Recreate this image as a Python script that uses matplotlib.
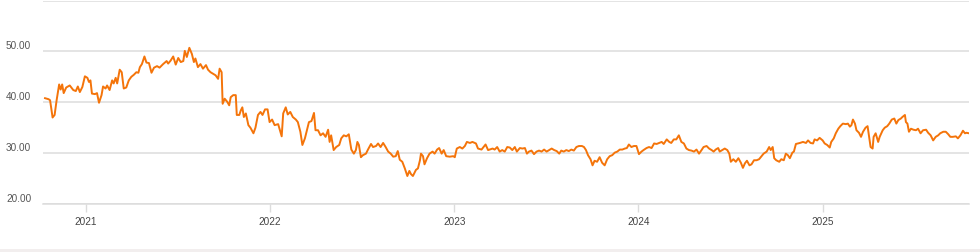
import numpy as np
import pandas as pd
import matplotlib
matplotlib.use("Agg")
import matplotlib.pyplot as plt
import matplotlib.dates as mdates
import matplotlib.transforms as mtransforms
from matplotlib.patches import Rectangle


# closing prices, split by year
dates_2020 = ["2020-10-12", "2020-10-19", "2020-10-22", "2020-10-27", "2020-10-31",
              "2020-11-04", "2020-11-09", "2020-11-12", "2020-11-15", "2020-11-18",
              "2020-11-23", "2020-11-30", "2020-12-07", "2020-12-12", "2020-12-16",
              "2020-12-20", "2020-12-25", "2020-12-30"]
close_2020 = [40.8, 40.6, 40.4, 37.0, 37.5, 40.4, 43.5, 42.5, 43.5, 41.8,
              42.9, 43.3, 42.4, 42.2, 43.1, 42.0, 43.0, 45.1]

dates_2021 = ["2021-01-04", "2021-01-07", "2021-01-10", "2021-01-13", "2021-01-19",
              "2021-01-23", "2021-01-27", "2021-02-01", "2021-02-04", "2021-02-09",
              "2021-02-12", "2021-02-17", "2021-02-22", "2021-02-25", "2021-03-01",
              "2021-03-04", "2021-03-09", "2021-03-13", "2021-03-17", "2021-03-22",
              "2021-03-27", "2021-04-01", "2021-04-06", "2021-04-11", "2021-04-15",
              "2021-04-18", "2021-04-22", "2021-04-27", "2021-05-01", "2021-05-06",
              "2021-05-11", "2021-05-16", "2021-05-22", "2021-05-27", "2021-06-03",
              "2021-06-10", "2021-06-13", "2021-06-18", "2021-06-23", "2021-06-28",
              "2021-07-03", "2021-07-08", "2021-07-13", "2021-07-16", "2021-07-20",
              "2021-07-25", "2021-07-30", "2021-08-03", "2021-08-06", "2021-08-11",
              "2021-08-16", "2021-08-21", "2021-08-27", "2021-08-31", "2021-09-05",
              "2021-09-10", "2021-09-15", "2021-09-20", "2021-09-23", "2021-09-27",
              "2021-09-29", "2021-10-03", "2021-10-08", "2021-10-12", "2021-10-15",
              "2021-10-20", "2021-10-25", "2021-10-27", "2021-11-01", "2021-11-04",
              "2021-11-07", "2021-11-10", "2021-11-14", "2021-11-19", "2021-11-23",
              "2021-11-29", "2021-12-03", "2021-12-08", "2021-12-13", "2021-12-17",
              "2021-12-22", "2021-12-27", "2021-12-31"]
close_2021 = [44.8, 44.0, 44.3, 41.7, 41.6, 41.8, 39.9, 41.4, 43.1, 42.7,
              43.3, 42.4, 44.3, 43.7, 44.8, 43.7, 46.4, 45.9, 42.7, 42.9,
              44.3, 45.0, 45.4, 45.9, 45.8, 46.9, 47.5, 49.0, 47.8, 47.7,
              45.8, 46.8, 47.1, 46.8, 47.5, 48.1, 47.6, 48.2, 49.0, 47.4,
              48.7, 47.9, 48.1, 50.1, 48.9, 50.7, 49.5, 47.9, 48.6, 46.9,
              47.5, 46.6, 47.3, 46.4, 45.9, 45.6, 45.3, 44.6, 46.6, 45.9,
              39.7, 40.7, 40.1, 39.4, 41.0, 41.4, 41.4, 37.5, 37.5, 38.4,
              39.0, 37.1, 37.8, 35.5, 35.0, 33.9, 35.0, 37.5, 38.1, 37.5,
              38.6, 38.6, 36.1]

dates_2022 = ["2022-01-05", "2022-01-10", "2022-01-17", "2022-01-24", "2022-01-27",
              "2022-02-01", "2022-02-05", "2022-02-10", "2022-02-15", "2022-02-21",
              "2022-02-25", "2022-03-02", "2022-03-06", "2022-03-11", "2022-03-15",
              "2022-03-19", "2022-03-24", "2022-03-29", "2022-04-01", "2022-04-06",
              "2022-04-11", "2022-04-16", "2022-04-21", "2022-04-26", "2022-04-29",
              "2022-05-02", "2022-05-07", "2022-05-12", "2022-05-18", "2022-05-22",
              "2022-05-27", "2022-06-01", "2022-06-06", "2022-06-11", "2022-06-16",
              "2022-06-20", "2022-06-23", "2022-06-26", "2022-06-30", "2022-07-04",
              "2022-07-10", "2022-07-14", "2022-07-20", "2022-07-24", "2022-07-30",
              "2022-08-03", "2022-08-08", "2022-08-13", "2022-08-18", "2022-08-23",
              "2022-08-28", "2022-09-02", "2022-09-07", "2022-09-11", "2022-09-15",
              "2022-09-20", "2022-09-25", "2022-09-30", "2022-10-04", "2022-10-07",
              "2022-10-11", "2022-10-17", "2022-10-21", "2022-10-25", "2022-10-27",
              "2022-10-31", "2022-11-03", "2022-11-08", "2022-11-13", "2022-11-19",
              "2022-11-23", "2022-11-28", "2022-12-02", "2022-12-07", "2022-12-11",
              "2022-12-16", "2022-12-23", "2022-12-30"]
close_2022 = [36.6, 35.5, 35.7, 33.3, 37.8, 39.0, 37.6, 38.1, 37.1, 36.6,
              36.1, 34.2, 31.6, 32.9, 34.5, 36.1, 36.3, 37.9, 34.5, 34.5,
              33.5, 33.9, 33.2, 34.6, 32.2, 33.5, 30.6, 31.2, 31.6, 32.9,
              33.5, 33.3, 33.7, 30.7, 29.9, 30.6, 32.2, 31.6, 29.2, 29.6,
              29.9, 30.7, 31.8, 31.2, 31.4, 31.9, 31.2, 32.0, 31.2, 30.3,
              29.9, 29.3, 29.4, 30.4, 28.7, 28.3, 27.0, 25.5, 26.5, 25.9,
              25.5, 26.7, 27.0, 28.6, 29.9, 29.4, 27.8, 29.0, 29.9, 30.3,
              29.9, 30.7, 31.0, 29.9, 30.6, 29.4, 29.3, 29.4]

dates_2023 = ["2023-01-02", "2023-01-06", "2023-01-12", "2023-01-17", "2023-01-22",
              "2023-01-26", "2023-02-01", "2023-02-06", "2023-02-13", "2023-02-17",
              "2023-02-24", "2023-02-28", "2023-03-04", "2023-03-09", "2023-03-18",
              "2023-03-22", "2023-03-27", "2023-04-01", "2023-04-06", "2023-04-11",
              "2023-04-16", "2023-04-21", "2023-04-26", "2023-05-01", "2023-05-05",
              "2023-05-11", "2023-05-16", "2023-05-21", "2023-05-25", "2023-05-29",
              "2023-06-03", "2023-06-08", "2023-06-13", "2023-06-18", "2023-06-23",
              "2023-06-28", "2023-07-03", "2023-07-08", "2023-07-13", "2023-07-18",
              "2023-07-23", "2023-07-28", "2023-08-01", "2023-08-06", "2023-08-11",
              "2023-08-16", "2023-08-21", "2023-08-26", "2023-08-31", "2023-09-05",
              "2023-09-11", "2023-09-15", "2023-09-19", "2023-09-23", "2023-09-28",
              "2023-10-02", "2023-10-06", "2023-10-11", "2023-10-16", "2023-10-21",
              "2023-10-26", "2023-10-31", "2023-11-05", "2023-11-10", "2023-11-15",
              "2023-11-20", "2023-11-25", "2023-11-30", "2023-12-05", "2023-12-09",
              "2023-12-13", "2023-12-18", "2023-12-23", "2023-12-28"]
close_2023 = [29.2, 30.9, 31.2, 30.9, 31.4, 32.2, 32.0, 32.2, 31.9, 30.9,
              30.7, 31.2, 31.7, 30.6, 30.9, 30.7, 31.2, 30.3, 30.6, 30.3,
              31.2, 31.1, 30.6, 31.2, 30.3, 31.0, 30.9, 31.0, 29.9, 30.3,
              30.5, 29.8, 30.3, 30.5, 30.3, 30.7, 30.3, 30.6, 30.9, 30.6,
              30.4, 29.9, 30.5, 30.3, 30.6, 30.4, 30.7, 30.5, 31.2, 31.4,
              31.4, 31.2, 30.6, 29.6, 28.8, 27.6, 28.5, 28.3, 29.2, 28.1,
              27.6, 28.8, 29.4, 29.6, 30.1, 30.3, 30.7, 30.7, 30.9, 31.0,
              31.7, 31.2, 31.4, 31.4]

dates_2024 = ["2024-01-02", "2024-01-07", "2024-01-11", "2024-01-17", "2024-01-22",
              "2024-01-27", "2024-02-01", "2024-02-06", "2024-02-11", "2024-02-16",
              "2024-02-20", "2024-02-26", "2024-03-02", "2024-03-06", "2024-03-11",
              "2024-03-16", "2024-03-21", "2024-03-26", "2024-03-31", "2024-04-05",
              "2024-04-10", "2024-04-15", "2024-04-20", "2024-04-25", "2024-04-30",
              "2024-05-05", "2024-05-09", "2024-05-15", "2024-05-20", "2024-05-25",
              "2024-05-29", "2024-06-02", "2024-06-07", "2024-06-10", "2024-06-15",
              "2024-06-20", "2024-06-25", "2024-06-29", "2024-07-02", "2024-07-07",
              "2024-07-12", "2024-07-17", "2024-07-22", "2024-07-26", "2024-07-30",
              "2024-08-03", "2024-08-08", "2024-08-12", "2024-08-17", "2024-08-22",
              "2024-08-27", "2024-09-01", "2024-09-05", "2024-09-11", "2024-09-16",
              "2024-09-19", "2024-09-23", "2024-09-26", "2024-09-30", "2024-10-06",
              "2024-10-10", "2024-10-15", "2024-10-19", "2024-10-23", "2024-10-27",
              "2024-11-01", "2024-11-04", "2024-11-08", "2024-11-12", "2024-11-16",
              "2024-11-22", "2024-11-28", "2024-12-02", "2024-12-07", "2024-12-12",
              "2024-12-15", "2024-12-20", "2024-12-25", "2024-12-31"]
close_2024 = [29.8, 30.3, 30.6, 31.0, 31.2, 31.0, 31.9, 31.8, 32.0, 32.2,
              31.8, 32.7, 32.2, 32.0, 32.7, 32.7, 33.5, 32.2, 31.9, 30.9,
              30.6, 30.5, 30.3, 30.7, 29.9, 30.6, 31.2, 31.4, 30.9, 30.6,
              30.3, 30.7, 31.0, 30.3, 30.6, 30.9, 30.6, 29.9, 28.3, 28.8,
              28.3, 29.0, 28.1, 27.1, 28.0, 28.5, 27.6, 27.8, 28.6, 28.6,
              28.8, 29.4, 29.9, 30.3, 31.2, 30.6, 31.2, 29.0, 28.6, 28.3,
              28.8, 28.6, 29.9, 29.6, 29.0, 30.1, 30.3, 31.8, 31.9, 32.0,
              32.2, 32.0, 32.5, 32.0, 31.9, 32.7, 32.5, 33.0, 32.5]

dates_2025 = ["2025-01-04", "2025-01-09", "2025-01-14", "2025-01-17", "2025-01-22",
              "2025-01-26", "2025-01-31", "2025-02-04", "2025-02-09", "2025-02-15",
              "2025-02-19", "2025-02-23", "2025-02-26", "2025-03-01", "2025-03-05",
              "2025-03-08", "2025-03-13", "2025-03-17", "2025-03-21", "2025-03-26",
              "2025-03-30", "2025-04-02", "2025-04-05", "2025-04-09", "2025-04-11",
              "2025-04-15", "2025-04-20", "2025-04-23", "2025-04-29", "2025-05-03",
              "2025-05-08", "2025-05-12", "2025-05-17", "2025-05-22", "2025-05-26",
              "2025-05-30", "2025-06-04", "2025-06-07", "2025-06-12", "2025-06-14",
              "2025-06-17", "2025-06-20", "2025-06-24", "2025-06-29", "2025-07-04",
              "2025-07-08", "2025-07-13", "2025-07-18", "2025-07-24", "2025-07-28",
              "2025-08-02", "2025-08-07", "2025-08-12", "2025-08-17", "2025-08-21",
              "2025-08-27", "2025-09-01", "2025-09-06", "2025-09-10", "2025-09-15",
              "2025-09-21", "2025-09-25", "2025-09-30", "2025-10-05", "2025-10-09",
              "2025-10-12", "2025-10-17"]
close_2025 = [31.9, 31.6, 31.1, 32.2, 32.9, 33.9, 34.8, 35.3, 35.8, 35.7,
              35.8, 35.2, 35.5, 36.6, 35.8, 34.5, 34.0, 33.2, 34.2, 35.0,
              35.3, 33.2, 31.2, 30.9, 33.2, 33.9, 32.2, 33.2, 34.5, 35.0,
              35.3, 35.8, 36.6, 36.8, 35.8, 36.5, 36.8, 37.1, 37.5, 36.1,
              35.8, 34.2, 34.8, 34.6, 34.5, 34.8, 33.9, 34.5, 34.6, 34.0,
              33.5, 32.5, 33.2, 33.5, 33.9, 34.2, 34.2, 33.7, 33.2, 33.2,
              33.3, 32.9, 33.5, 34.4, 33.9, 34.0, 33.9]

y_ticks = [20, 30, 40, 50, 60]
y_labels = ["20.00", "30.00", "40.00", "50.00", ""]
x_ticks = ["2021-01-01", "2022-01-01", "2023-01-01", "2024-01-01", "2025-01-01"]
x_labels = ["2021", "2022", "2023", "2024", "2025"]

dates = pd.to_datetime(dates_2020 + dates_2021 + dates_2022 + dates_2023 + dates_2024 + dates_2025)
close = np.array(close_2020 + close_2021 + close_2022 + close_2023 + close_2024 + close_2025)

plt.rcParams["font.family"] = ["Liberation Sans", "DejaVu Sans"]

fig = plt.figure(figsize=(9.8, 2.52), dpi=100)
ax = fig.add_axes([43 / 980, 1 - 204 / 252, 926 / 980, 204 / 252 - 0.002])

grid_col = "#dcdcdc"
ax.plot(dates, close, color="#f4740a", linewidth=1.4, zorder=3)

ax.set_xlim(pd.Timestamp("2020-10-08"), pd.Timestamp("2025-10-17"))
ax.set_ylim(20, 60)

ax.set_yticks(y_ticks)
ax.set_yticklabels(y_labels)
ax.set_xticks(pd.to_datetime(x_ticks))
ax.set_xticklabels(x_labels)

ax.grid(axis="y", color=grid_col, linewidth=1.1, zorder=0)
ax.set_axisbelow(True)
for side in ["top", "right", "left"]:
    ax.spines[side].set_visible(False)
ax.spines["bottom"].set_color(grid_col)
ax.spines["bottom"].set_linewidth(1.1)

ax.tick_params(axis="y", length=0, pad=8.5, labelsize=7.2, labelcolor="#555555")
ax.tick_params(axis="x", length=5.5, width=1.0, color=grid_col, pad=4,
               labelsize=7.2, labelcolor="#444444")

# y labels sit a few pixels above their grid lines
offset = mtransforms.ScaledTranslation(0, 4.5 / 72, fig.dpi_scale_trans)
for lab in ax.get_yticklabels():
    lab.set_transform(lab.get_transform() + offset)

# thin grey strip along the bottom edge
fig.patches.append(Rectangle((0, 0), 1, 3 / 252, transform=fig.transFigure,
                             facecolor="#f2eeee", edgecolor="none"))

fig.savefig("out.png", dpi=100)
